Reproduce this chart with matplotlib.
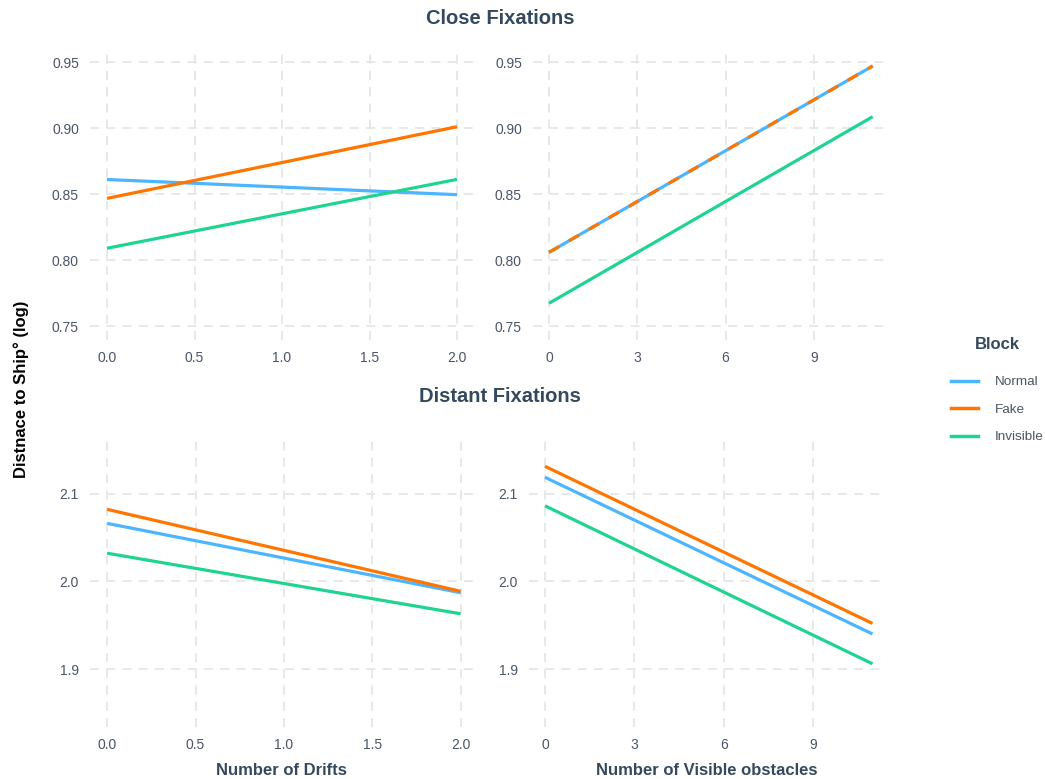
import matplotlib
matplotlib.use("Agg")
import matplotlib.pyplot as plt
from matplotlib.lines import Line2D

plt.rcParams['font.family'] = ['Liberation Sans', 'DejaVu Sans']

# data: start/end of each fitted line
blocks = ["Normal", "Fake", "Invisible"]
colores = {"Normal": "#4cb5ff", "Fake": "#ff7500", "Invisible": "#1fd491"}

drifts_x = [0, 2]
obst_x = [0, 11]

close_drifts = {"Normal": [0.861, 0.8495], "Fake": [0.8467, 0.901], "Invisible": [0.8089, 0.8611]}
close_obst = {"Normal": [0.8058, 0.947], "Fake": [0.8058, 0.947], "Invisible": [0.7672, 0.9086]}
dist_drifts = {"Normal": [2.066, 1.987], "Fake": [2.082, 1.9886], "Invisible": [2.032, 1.963]}
dist_obst = {"Normal": [2.1185, 1.940], "Fake": [2.131, 1.952], "Invisible": [2.086, 1.906]}

close_yticks = [0.75, 0.80, 0.85, 0.90, 0.95]
dist_yticks = [1.9, 2.0, 2.1]
drift_xticks = [0.0, 0.5, 1.0, 1.5, 2.0]
obst_xticks = [0, 3, 6, 9]

W, H = 1045, 779
fig = plt.figure(figsize=(W / 100, H / 100), dpi=100)

def caixa(x0, y0, x1, y1):
    return [x0 / W, 1 - y1 / H, (x1 - x0) / W, (y1 - y0) / H]

texto = "#4a5566"
titulo_cor = "#34495e"

def painel(pos, xs, dados, xlim, ylim, xticks, yticks, fmt_x, fmt_y, dashed_fake=False):
    ax = fig.add_axes(pos)
    for b in blocks:
        ls = "-"
        if dashed_fake and b == "Fake":
            ls = (0, (3.6, 3.6))
        ax.plot(xs, dados[b], color=colores[b], lw=2.3, ls=ls, solid_capstyle="butt")
    ax.set_xlim(xlim)
    ax.set_ylim(ylim)
    ax.set_xticks(xticks)
    ax.set_yticks(yticks)
    ax.set_xticklabels([fmt_x.format(v) for v in xticks])
    ax.set_yticklabels([fmt_y.format(v) for v in yticks])
    ax.grid(True, color="#e6e6e6", ls=(0, (5, 4)), lw=1.3)
    ax.set_axisbelow(True)
    for s in ax.spines.values():
        s.set_visible(False)
    ax.tick_params(length=0, labelsize=10, labelcolor=texto, pad=8)
    return ax

ax1 = painel(caixa(90, 52, 473, 340), drifts_x, close_drifts, (-0.097, 2.091), (0.7394, 0.9576),
             drift_xticks, close_yticks, "{:.1f}", "{:.2f}")
ax2 = painel(caixa(533, 52, 888, 340), obst_x, close_obst, (-0.543, 11.52), (0.7394, 0.9576),
             obst_xticks, close_yticks, "{:d}", "{:.2f}", dashed_fake=True)
ax3 = painel(caixa(90, 440, 473, 727), drifts_x, dist_drifts, (-0.097, 2.07), (1.834, 2.161),
             drift_xticks, dist_yticks, "{:.1f}", "{:.1f}")
ax4 = painel(caixa(529, 440, 885, 727), obst_x, dist_obst, (-0.537, 11.42), (1.834, 2.161),
             obst_xticks, dist_yticks, "{:d}", "{:.1f}")

ax3.set_xlabel("Number of Drifts", fontsize=12, fontweight="bold", color=titulo_cor, labelpad=8)
ax4.set_xlabel("Number of Visible obstacles", fontsize=12, fontweight="bold", color=titulo_cor, labelpad=8)

fig.text(500 / W, 1 - 18 / H, "Close Fixations", ha="center", va="center",
         fontsize=14.5, fontweight="bold", color=titulo_cor)
fig.text(500 / W, 1 - 397 / H, "Distant Fixations", ha="center", va="center",
         fontsize=14.5, fontweight="bold", color=titulo_cor)
fig.text(21 / W, 1 - 389 / H, "Distnace to Ship° (log)", ha="center", va="center",
         rotation=90, fontsize=12, fontweight="bold", color="black")

handles = [Line2D([0], [0], color=colores[b], lw=2.5) for b in blocks]
leg = fig.legend(handles, blocks, loc="upper left", bbox_to_anchor=(946 / W, 1 - 332 / H),
                 frameon=False, title="Block", fontsize=9.7, handlelength=1.95,
                 handletextpad=1.25, labelspacing=1.12, borderaxespad=0)
leg.get_title().set_fontweight("bold")
leg.get_title().set_fontsize(12)
leg.get_title().set_color(titulo_cor)
for t in leg.get_texts():
    t.set_color(texto)
leg._legend_box.sep = 17

fig.savefig("out.png", dpi=100, facecolor="white")
